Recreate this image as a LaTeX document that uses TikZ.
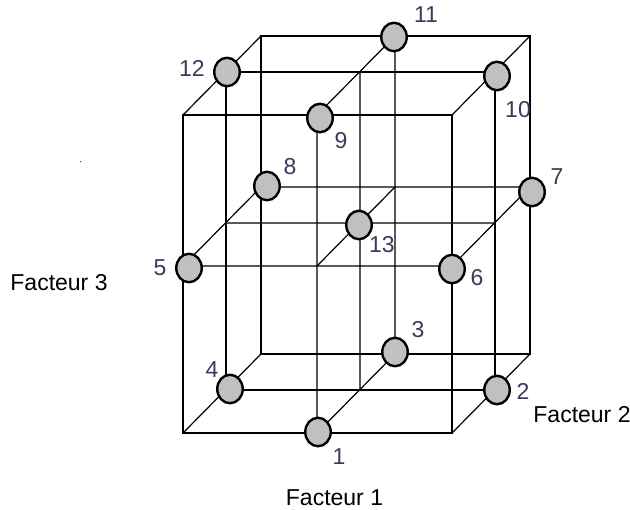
\documentclass[tikz,border=0pt]{standalone}
\usepackage{fontspec}
\setmainfont{Liberation Sans}
\usepackage{tikz}
\usetikzlibrary{shapes.geometric}
\usepackage{xcolor}
\definecolor{ballfill}{HTML}{C0C0C0}
\definecolor{numtext}{HTML}{3A3A5C}

\begin{document}
\begin{tikzpicture}[x=1pt,y=-1pt,
  every node/.style={font=\fontsize{23}{27}\selectfont},
  ball/.style={ellipse,draw,fill=ballfill,line width=2.4pt,inner sep=0pt,minimum width=25.5pt,minimum height=28.5pt},
  num/.style={text=numtext,inner sep=0pt},
  edge/.style={line width=1.2pt}]
 \useasboundingbox (0,0) rectangle (630,510);
 \foreach \i/\x in {0/183,1/317,2/452}
  \foreach \j/\y in {0/115,1/266,2/433}
   \foreach \k/\dx/\dy in {0/0/0,1/43/43,2/78/79}
    \coordinate (p\i\j\k) at (\x+\dx,\y-\dy);
 % outer box
 \draw[edge] (p000) -- (p200) -- (p220) -- (p020) -- cycle;
 \draw[edge] (p002) -- (p202) -- (p222) -- (p022) -- cycle;
 \draw[edge] (p000) -- (p002) (p200) -- (p202) (p220) -- (p222) (p020) -- (p022);
 % middle planes
 \draw[edge] (p001) -- (p201) -- (p221) -- (p021) -- cycle;
 \draw[edge] (p100) -- (p102) -- (p122) -- (p120) -- cycle;
 \draw[edge] (p010) -- (p210) -- (p212) -- (p012) -- cycle;
 \draw[edge] (p011) -- (p211) (p110) -- (p112) (p101) -- (p121);
 % points
 \node[ball] (n1) at (318,432) {};
 \node[ball] (n2) at (497,390) {};
 \node[ball] (n3) at (395,352) {};
 \node[ball] (n4) at (230,389) {};
 \node[ball] (n5) at (189,268) {};
 \node[ball] (n6) at (452,269) {};
 \node[ball] (n7) at (532,192) {};
 \node[ball] (n8) at (267,186) {};
 \node[ball] (n9) at (320,118) {};
 \node[ball] (n10) at (497,76) {};
 \node[ball] (n11) at (394,37) {};
 \node[ball] (n12) at (227,72) {};
 \node[ball] (n13) at (359,225) {};
 \node[num] (l1) at (339,457) {1};
 \node[num] (l2) at (523,391) {2};
 \node[num] (l3) at (418,329.5) {3};
 \node[num] (l4) at (212,369.5) {4};
 \node[num] (l5) at (160,268) {5};
 \node[num] (l6) at (477,277.5) {6};
 \node[num] (l7) at (557,177) {7};
 \node[num] (l8) at (290,167) {8};
 \node[num] (l9) at (341,140.5) {9};
 \node[num] (l10) at (518,110) {10};
 \node[num] (l11) at (426,14.5) {11};
 \node[num] (l12) at (192,68) {12};
 \node[num] (l13) at (382,244.5) {13};
 \node[inner sep=0pt] (fac1) at (334.5,497.5) {Facteur 1};
 \node[inner sep=0pt] (fac2) at (582,414.5) {Facteur 2};
 \node[inner sep=0pt] (fac3) at (59,283) {Facteur 3};
 \fill (80.7,161.7) circle (0.6pt);
\end{tikzpicture}
\end{document}
